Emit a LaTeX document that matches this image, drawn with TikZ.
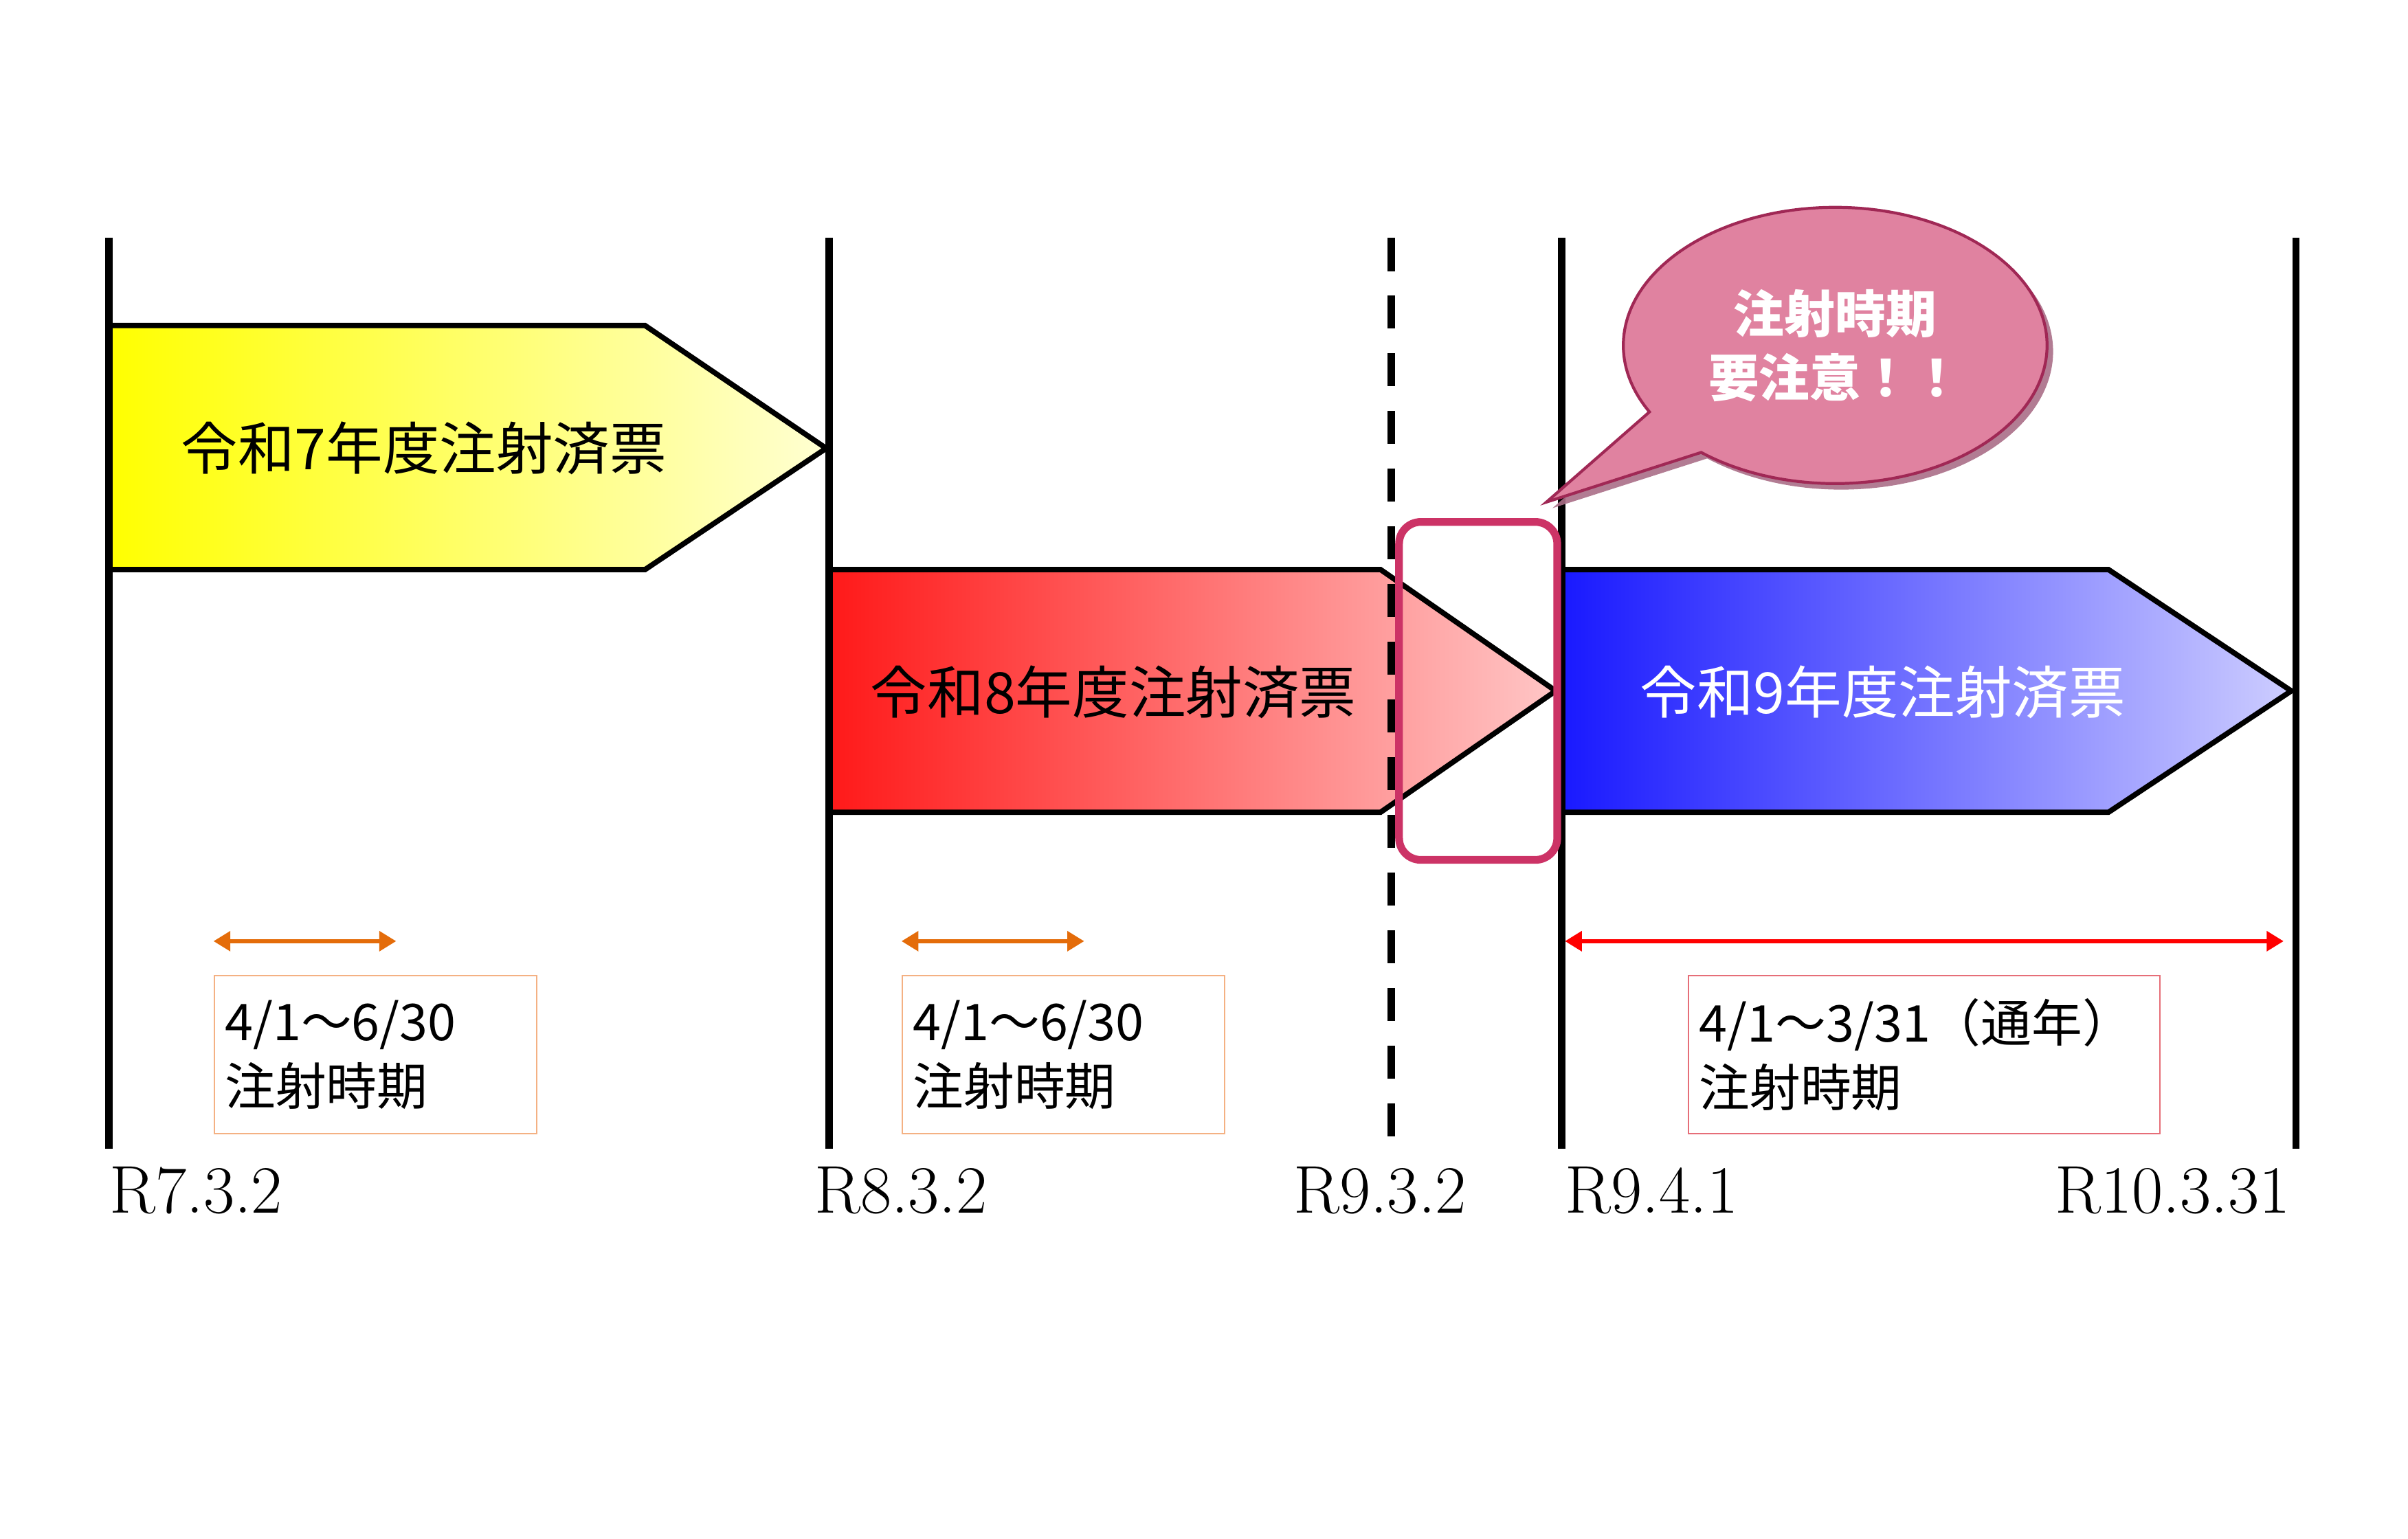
\documentclass[tikz,border=0pt]{standalone}
\usepackage{fontspec}
\newfontfamily\jpfont{Noto Sans CJK JP}
\usetikzlibrary{arrows.meta,shapes.callouts,shadows}
\newcommand\px{0.022347cm}
\definecolor{calloutpink}{RGB}{224,130,160}
\definecolor{calloutedge}{RGB}{160,40,85}
\definecolor{shadowmauve}{RGB}{170,110,135}
\definecolor{framepink}{RGB}{204,51,102}
\definecolor{periodorange}{RGB}{228,108,10}
\definecolor{boxorange}{RGB}{244,177,131}
\definecolor{boxred}{RGB}{230,110,120}
\begin{document}
\begin{tikzpicture}
            [
            x=\px, y=-\px,
            timeline/.style = {line width=3pt},
            ticket/.style = {draw=black, line width=2.2pt, line join=miter},
            ticket label/.style = {font=\jpfont\fontsize{23.5}{28}\selectfont, inner sep=0pt},
            date label/.style = {font=\fontsize{28}{32}\selectfont, anchor=base west, inner sep=0pt},
            period arrow/.style = {{Triangle[length=7pt,width=8pt]}-{Triangle[length=7pt,width=8pt]}, line width=1.8pt, draw=#1},
            period box/.style = {draw=#1, line width=0.6pt, anchor=north west, align=left, inner xsep=0.156cm, inner ysep=0pt, minimum height=2.302cm, font=\jpfont\fontsize{21}{26.6}\selectfont},
            ]
            \tikzstyle{warning callout}=[ellipse callout, draw=calloutedge, line width=1.2pt, fill=calloutpink, minimum width=6.168cm, minimum height=4.022cm, callout absolute pointer={(1007,327)}, callout pointer arc=22, align=center, text=white, font=\jpfont\bfseries\fontsize{21}{26.6}\selectfont, drop shadow={shadow xshift=2.5pt, shadow yshift=-2.5pt, fill=shadowmauve, opacity=0.9}]
            \tikzstyle{highlight frame}=[draw=framepink, line width=3.2pt, rounded corners=9pt, minimum width=2.302cm, minimum height=4.92cm, inner sep=0pt]

            \useasboundingbox (0,0) rectangle (1568,1002);

            \draw[ticket, left color={rgb,255:red,255;green,255;blue,0}, right color={rgb,255:red,255;green,255;blue,210}]
                (71,212) -- (420,212) -- (538,292) -- (420,371) -- (71,371) -- cycle;
            \draw[ticket, left color={rgb,255:red,255;green,25;blue,25}, right color={rgb,255:red,255;green,198;blue,198}]
                (540,371) -- (899,371) -- (1013,450) -- (899,529) -- (540,529) -- cycle;
            \draw[ticket, left color={rgb,255:red,25;green,25;blue,255}, right color={rgb,255:red,205;green,205;blue,255}]
                (1017,371) -- (1373,371) -- (1492,450) -- (1373,529) -- (1017,529) -- cycle;

            \node[ticket label] (r7ticket) at (276,292) {令和7年度注射済票};
            \node[ticket label] (r8ticket) at (725,451) {令和8年度注射済票};
            \node[ticket label, text=white] (r9ticket) at (1226,451) {令和9年度注射済票};

            \foreach \name/\xpos in {r7/71, r8/540, r9b/1017, r10/1495} {
                \coordinate (\name top) at (\xpos,155);
                \coordinate (\name bottom) at (\xpos,748);
                \draw[timeline] (\name top) -- (\name bottom);
            }
            \coordinate (r9a top) at (906,155);
            \coordinate (r9a bottom) at (906,748);
            \draw[timeline, dash pattern=on 13.7pt off 10.2pt] (r9a top) -- (r9a bottom);

            \node[highlight frame] (gap) at (962.5,450) {};

            \node[warning callout] (warn) at (1195,225) {注射時期\\要注意！！};

            \coordinate (p7start) at (139,613);
            \coordinate (p7end) at (258,613);
            \coordinate (p8start) at (587,613);
            \coordinate (p8end) at (706,613);
            \coordinate (p9start) at (1019,613);
            \coordinate (p9end) at (1487,613);
            \draw[period arrow=periodorange] (p7start) -- (p7end);
            \draw[period arrow=periodorange] (p8start) -- (p8end);
            \draw[period arrow=red] (p9start) -- (p9end);

            \node[period box=boxorange, text width=4.38cm] (p7box) at (139,635) {4/1～6/30\\注射時期};
            \node[period box=boxorange, text width=4.38cm] (p8box) at (587,635) {4/1～6/30\\注射時期};
            \node[period box=boxred, text width=6.55cm] (p9box) at (1099,635) {4/1～3/31（通年）\\注射時期};

            \node[date label] (d7) at (71,790) {R7.3.2};
            \node[date label] (d8) at (530,790) {R8.3.2};
            \node[date label] (d9a) at (842,790) {R9.3.2};
            \node[date label] (d9b) at (1019,790) {R9.4.1};
            \node[date label] (d10) at (1338,790) {R10.3.31};
        \end{tikzpicture}
\end{document}
